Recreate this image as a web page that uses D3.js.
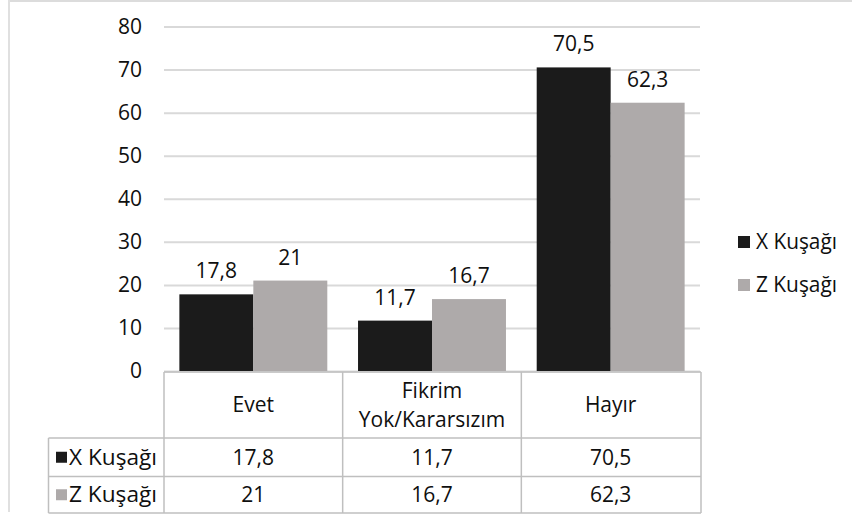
<!DOCTYPE html>
<html><head><meta charset="utf-8">
<script src="https://cdn.jsdelivr.net/npm/d3@7/dist/d3.min.js"></script>
<style>
html,body{margin:0;padding:0;background:#fff;}
svg{display:block;font-family:"Open Sans",sans-serif;}
</style></head><body>
<svg id="chart" width="852" height="523"></svg>
<script>
const categories = ["Evet", "Fikrim\nYok/Kararsızım", "Hayır"];
const seriesNames = ["X Kuşağı", "Z Kuşağı"];
const xValues = [17.8, 11.7, 70.5];
const zValues = [21, 16.7, 62.3];
const yTicks = [0, 10, 20, 30, 40, 50, 60, 70, 80];
const colors = ["#1b1b1b", "#aeaaaa"];

const fmt = v => String(v).replace(".", ",");
const series = [xValues, zValues];

const svg = d3.select("#chart");
const W = 852, H = 523;
const fs = 21;
const txt = "#0f0f0f";

// frame
svg.append("line").attr("x1", 9).attr("x2", W).attr("y1", 1).attr("y2", 1).attr("stroke", "#dcdcdc").attr("stroke-width", 2);
svg.append("line").attr("x1", 9).attr("x2", 9).attr("y1", 0).attr("y2", 512).attr("stroke", "#e0e0e0").attr("stroke-width", 2);

const plotL = 164, plotR = 700, plotT = 26.5, plotB = 371;
const y = d3.scaleLinear().domain([0, 80]).range([plotB, plotT]);
const x0 = d3.scaleBand().domain(d3.range(categories.length)).range([plotL, plotR]).paddingInner(0).paddingOuter(0);
const inner = 0.172;
const x1 = d3.scaleBand().domain([0, 1]).range([x0.bandwidth() * inner / 2, x0.bandwidth() * (1 - inner / 2)]);

// gridlines + tick labels
const yAxis = d3.axisLeft(y).tickValues(yTicks).tickSize(-(plotR - plotL)).tickPadding(22).tickFormat(d => d);
const gA = svg.append("g").attr("transform", `translate(${plotL},0)`).call(yAxis);
gA.attr("font-size", fs).attr("font-family", "Open Sans");
gA.select(".domain").remove();
gA.selectAll(".tick line").attr("stroke", "#d9d9d9").attr("stroke-width", 2);
gA.selectAll(".tick text").attr("fill", txt);

// bars
const gBars = svg.append("g");
categories.forEach((c, i) => {
  series.forEach((s, j) => {
    const bx = x0(i) + x1(j);
    gBars.append("rect").attr("x", bx).attr("width", x1.bandwidth())
      .attr("y", y(s[i])).attr("height", y(0) - y(s[i])).attr("fill", colors[j]);
    gBars.append("text").attr("x", bx + x1.bandwidth() / 2).attr("y", y(s[i]) - 16)
      .attr("text-anchor", "middle").attr("font-size", fs).attr("fill", txt).text(fmt(s[i]));
  });
});

// data table
const tableL = 48.5, rowTops = [372, 438, 476.5, 513];
const tg = svg.append("g").attr("fill", "none").attr("stroke", "#bfbfbf").attr("stroke-width", 1.5);
tg.append("line").attr("x1", plotL).attr("x2", plotR + 1).attr("y1", rowTops[0]).attr("y2", rowTops[0]);
for (let r = 1; r < rowTops.length; r++) tg.append("line").attr("x1", tableL).attr("x2", plotR + 1).attr("y1", rowTops[r]).attr("y2", rowTops[r]);
tg.append("line").attr("x1", tableL).attr("x2", tableL).attr("y1", rowTops[1]).attr("y2", rowTops[3]);
[0, 1, 2, 3].forEach(k => {
  const xx = k < 3 ? x0(k) : plotR + 1;
  tg.append("line").attr("x1", xx).attr("x2", xx).attr("y1", rowTops[0]).attr("y2", rowTops[3]);
});

categories.forEach((c, i) => {
  const lines = c.split("\n");
  const cx = x0(i) + x0.bandwidth() / 2;
  const cy = (rowTops[0] + rowTops[1]) / 2;
  const lh = 29;
  lines.forEach((ln, k) => {
    svg.append("text").attr("x", cx).attr("y", cy + (k - (lines.length - 1) / 2) * lh)
      .attr("dy", "0.35em").attr("text-anchor", "middle").attr("font-size", fs).attr("fill", txt).text(ln);
  });
  series.forEach((s, j) => {
    svg.append("text").attr("x", cx).attr("y", (rowTops[j + 1] + rowTops[j + 2]) / 2)
      .attr("dy", "0.35em").attr("text-anchor", "middle").attr("font-size", fs).attr("fill", txt).text(fmt(s[i]));
  });
});
seriesNames.forEach((n, j) => {
  const cy = (rowTops[j + 1] + rowTops[j + 2]) / 2;
  svg.append("rect").attr("x", 56).attr("y", cy - 5.5).attr("width", 11).attr("height", 11).attr("fill", colors[j]);
  svg.append("text").attr("x", 69).attr("y", cy).attr("dy", "0.35em").attr("font-size", fs).attr("fill", txt)
    .attr("textLength", 88).attr("lengthAdjust", "spacingAndGlyphs").text(n);
});

// legend
const legY = [242, 285];
seriesNames.forEach((n, j) => {
  svg.append("rect").attr("x", 738).attr("y", legY[j] - 6).attr("width", 12).attr("height", 12).attr("fill", colors[j]);
  svg.append("text").attr("x", 756).attr("y", legY[j]).attr("dy", "0.35em").attr("font-size", fs).attr("fill", txt)
    .attr("textLength", 81).attr("lengthAdjust", "spacingAndGlyphs").text(n);
});
</script></body></html>
